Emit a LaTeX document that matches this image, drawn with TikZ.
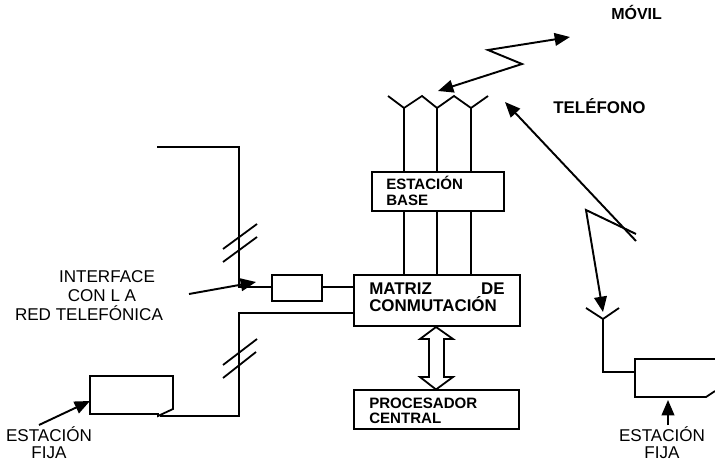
\documentclass[tikz,border=0pt]{standalone}
\usepackage{fontspec}
\setmainfont{Liberation Sans}
\usetikzlibrary{arrows.meta}
\tikzset{
  wire/.style={line width=1.35pt,line join=miter},
  boxed/.style={draw,line width=1.45pt,inner sep=0pt},
  arrowline/.style={line width=1.45pt,-{Triangle[length=11.5pt,width=9.5pt]}},
  lab/.style={inner sep=0pt,font=\fontsize{12.8}{14}\selectfont},
  blab/.style={inner sep=0pt,font=\fontsize{#1}{13}\bfseries\selectfont},
  blab/.default=11.3
}
\begin{document}
\begin{tikzpicture}[x=0.75pt,y=-0.75pt]
\useasboundingbox (0,0) rectangle (715,460);
% boxes
\node[boxed,minimum width=99pt,minimum height=29.25pt] (base) at (438,191.5) {};
\node[boxed,minimum width=124.5pt,minimum height=38.25pt] (matriz) at (437,300.5) {};
\node[boxed,minimum width=123.75pt,minimum height=29.25pt] (proc) at (436.5,409.5) {};
\node[boxed,minimum width=37.5pt,minimum height=19.5pt] (iface) at (297,288) {};
% texts
\node[blab,anchor=base west] (t1) at (386,190) {ESTACIÓN};
\node[blab,anchor=base west] (t2) at (386,205) {BASE};
\node[blab=12.7,anchor=base west] (t3) at (369,294.5) {MATRIZ};
\node[blab=12.7,anchor=base east] (t4) at (505,294.5) {DE};
\node[blab=12.7,anchor=base west] (t5) at (369,311.5) {CONMUTACIÓN};
\node[blab,anchor=base west] (t6) at (369,408) {PROCESADOR};
\node[blab,anchor=base west] (t7) at (369,423) {CENTRAL};
\node[blab=12,anchor=base west] (t8) at (611,20) {MÓVIL};
\node[blab=12.7,anchor=base west] (t9) at (553,114) {TELÉFONO};
\node[lab,anchor=base] (t10) at (107,282) {INTERFACE};
\node[lab,anchor=base] (t11) at (102,301) {CON L A};
\node[lab,anchor=base] (t12) at (89,320) {RED TELEFÓNICA};
\node[lab,anchor=base] (t13) at (49,441) {ESTACIÓN};
\node[lab,anchor=base] (t14) at (49,458) {FIJA};
\node[lab,anchor=base] (t15) at (662,441) {ESTACIÓN};
\node[lab,anchor=base] (t16) at (662,458) {FIJA};
% coordinates
\coordinate (m1) at (570,37);
\coordinate (m2) at (488,50);
\coordinate (m3) at (522,64);
\coordinate (m4) at (438,91);
\coordinate (a0) at (388,96);
\coordinate (a1) at (404,108);
\coordinate (a2) at (422,96);
\coordinate (a3) at (437,108);
\coordinate (a4) at (454,96);
\coordinate (a5) at (471,108);
\coordinate (a6) at (488,96);
% mobile link and base antennas
\draw[arrowline,{Triangle[length=11.5pt,width=9.5pt]}-{Triangle[length=11.5pt,width=9.5pt]}] (m1) -- (m2) -- (m3) -- (m4);
\draw[wire] (a0) -- (a1) -- (a2) -- (a3) -- (a4) -- (a5) -- (a6);
\draw[wire] (a1) -- (a1 |- base.north);
\draw[wire] (a3) -- (a3 |- base.north);
\draw[wire] (a5) -- (a5 |- base.north);
\draw[wire] (a1 |- base.south) -- (a1 |- matriz.north);
\draw[wire] (a3 |- base.south) -- (a3 |- matriz.north);
\draw[wire] (a5 |- base.south) -- (a5 |- matriz.north);
% left lines
\coordinate (l1) at (157,147);
\coordinate (l2) at (239,147);
\coordinate (l3) at (239,287);
\draw[wire] (l1) -- (l2) -- (l3) -- (iface.west |- l3);
\draw[wire] (iface.east |- l3) -- (matriz.west |- l3);
\coordinate (s1a) at (223,249); \coordinate (s1b) at (257,224);
\coordinate (s2a) at (223,262); \coordinate (s2b) at (257,237);
\draw[wire] (s1a) -- (s1b); \draw[wire] (s2a) -- (s2b);
\coordinate (l4) at (239,313);
\coordinate (l5) at (239,416);
\coordinate (l6) at (160,416);
\draw[wire] (matriz.west |- l4) -- (l4) -- (l5) -- (l6);
\coordinate (s3a) at (223,365); \coordinate (s3b) at (257,339);
\coordinate (s4a) at (223,378); \coordinate (s4b) at (256,352);
\draw[wire] (s3a) -- (s3b); \draw[wire] (s4a) -- (s4b);
% left fixed station
\coordinate (f1) at (90,376); \coordinate (f2) at (173,376); \coordinate (f3) at (173,409);
\coordinate (f4) at (158,416); \coordinate (f5) at (158,414); \coordinate (f6) at (90,414);
\draw[wire] (f3) -- (f2) -- (f1) -- (f6) -- (f5) -- (f4) -- cycle;
% callout arrows
\coordinate (c1) at (189,294); \coordinate (c2) at (256,282);
\draw[arrowline] (c1) -- (c2);
\coordinate (c3) at (39,425); \coordinate (c4) at (90,401);
\draw[arrowline] (c3) -- (c4);
\coordinate (c5) at (668,425); \coordinate (c6) at (668,400);
\draw[arrowline] (c5) -- (c6);
% double arrow
\coordinate (d1) at (436,327); \coordinate (d2) at (453,339); \coordinate (d3) at (444,339);
\coordinate (d4) at (444,377); \coordinate (d5) at (453,377); \coordinate (d6) at (436,389.5);
\coordinate (d7) at (420,377); \coordinate (d8) at (429,377); \coordinate (d9) at (429,339); \coordinate (d10) at (420,339);
\draw[wire] (d1) -- (d2) -- (d3) -- (d4) -- (d5) -- (d6) -- (d7) -- (d8) -- (d9) -- (d10) -- cycle;
% right link
\coordinate (r1) at (636,241); \coordinate (r2) at (505,102);
\draw[arrowline] (r1) -- (r2);
\coordinate (r3) at (636,234); \coordinate (r4) at (586,210); \coordinate (r5) at (603,312);
\draw[arrowline] (r3) -- (r4) -- (r5);
\coordinate (an1) at (586,308); \coordinate (an2) at (603,319); \coordinate (an3) at (619,308);
\draw[wire] (an1) -- (an2) -- (an3);
\coordinate (an4) at (603,372); \coordinate (an5) at (635,372);
\draw[wire] (an2) -- (an4) -- (an5);
% right fixed station (runs off the edge)
\coordinate (g1) at (715,359); \coordinate (g2) at (635,359); \coordinate (g3) at (635,397); \coordinate (g4) at (706,397); \coordinate (g5) at (715,391);
\draw[wire] (g1) -- (g2) -- (g3) -- (g4) -- (g5);
\end{tikzpicture}
\end{document}
